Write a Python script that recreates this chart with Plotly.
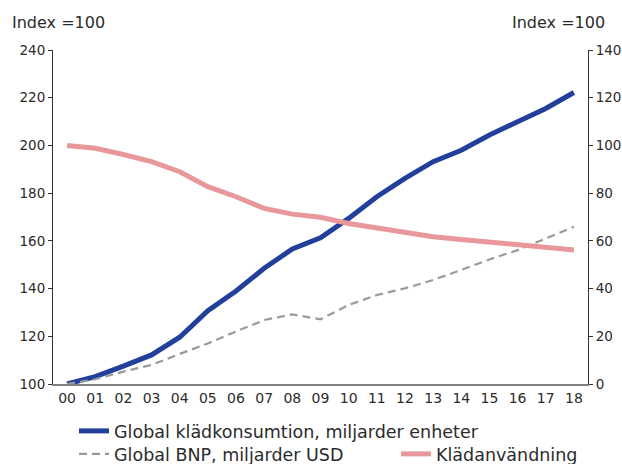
import plotly.graph_objects as go

years = ["00", "01", "02", "03", "04", "05", "06", "07", "08", "09",
         "10", "11", "12", "13", "14", "15", "16", "17", "18"]
consumption = [100, 103.1, 107.5, 112.2, 119.6, 130.7, 139, 148.5, 156.6, 161.3,
               169.4, 178.5, 186.2, 193.2, 198, 204.4, 209.9, 215.5, 222.2]
gdp = [100, 102, 105.2, 108, 112.6, 117, 122, 126.8, 129.2, 127.1,
       133.1, 137.3, 140.1, 143.6, 147.8, 152.2, 156.1, 161, 165.9]
utilization = [100, 98.8, 96.2, 93.2, 89, 82.7, 78.5, 73.6, 71.2, 69.9,
               67.3, 65.3, 63.2, 61.7, 60.6, 59.4, 58.5, 57.5, 56.2]

names = ["Global klädkonsumtion, miljarder enheter", "Global BNP, miljarder USD", "Klädanvändning"]

font_family = "DejaVu Sans, sans-serif"
text_color = "#2b2b2b"

fig = go.Figure()
fig.add_trace(go.Scatter(x=years, y=consumption, name=names[0], mode="lines",
                         line=dict(color="#22409b", width=5), legend="legend"))
fig.add_trace(go.Scatter(x=years, y=gdp, name=names[1], mode="lines",
                         line=dict(color="#9a9a9c", width=2.2, dash="8px,5px"), legend="legend2"))
fig.add_trace(go.Scatter(x=years, y=utilization, name=names[2], mode="lines", yaxis="y2",
                         line=dict(color="#e8979a", width=5), legend="legend3"))

W, H = 622, 464
ML, MR, MT, MB = 53, 34, 50, 80
PW, PH = W - ML - MR, H - MT - MB

def legend_box(x_px, y_px):
    return dict(orientation="h", xref="container", yref="container",
                x=x_px / W, xanchor="left", y=1 - y_px / H, yanchor="middle",
                font=dict(size=17.5, color=text_color), bgcolor="rgba(0,0,0,0)")

tick_font = dict(size=13.5, color=text_color)

fig.update_layout(
    width=W, height=H,
    margin=dict(l=ML, r=MR, t=MT, b=MB, autoexpand=False),
    paper_bgcolor="white", plot_bgcolor="white",
    font=dict(family=font_family, size=14, color=text_color),
    showlegend=True,
    legend=legend_box(74, 431),
    legend2=legend_box(74, 454),
    legend3=legend_box(396, 454),
    xaxis=dict(type="category", range=[-0.5, len(years) - 0.5],
               showgrid=False, zeroline=False,
               showline=True, linecolor="#808080", linewidth=2,
               ticks="", tickfont=dict(size=14, color=text_color)),
    yaxis=dict(range=[100, 240], dtick=20, showgrid=False, zeroline=False,
               showline=True, linecolor="#333333", linewidth=1,
               ticks="outside", ticklen=4, tickcolor="#333333",
               tickfont=tick_font),
    yaxis2=dict(range=[0, 140], dtick=20, overlaying="y", side="right",
                showgrid=False, zeroline=False,
                showline=True, linecolor="#333333", linewidth=1,
                ticks="outside", ticklen=4, tickcolor="#333333",
                tickfont=tick_font),
    annotations=[
        dict(text="Index =100", xref="paper", yref="paper",
             x=(10 - ML) / PW, y=(H - MB - 22) / PH,
             xanchor="left", yanchor="middle", showarrow=False,
             font=dict(size=16, color=text_color)),
        dict(text="Index =100", xref="paper", yref="paper",
             x=(607 - ML) / PW, y=(H - MB - 22) / PH,
             xanchor="right", yanchor="middle", showarrow=False,
             font=dict(size=16, color=text_color)),
    ],
)

fig.write_html("out.html",
               config={"displayModeBar": False},
               post_script="document.body.style.margin='0';document.body.style.overflow='hidden';")
